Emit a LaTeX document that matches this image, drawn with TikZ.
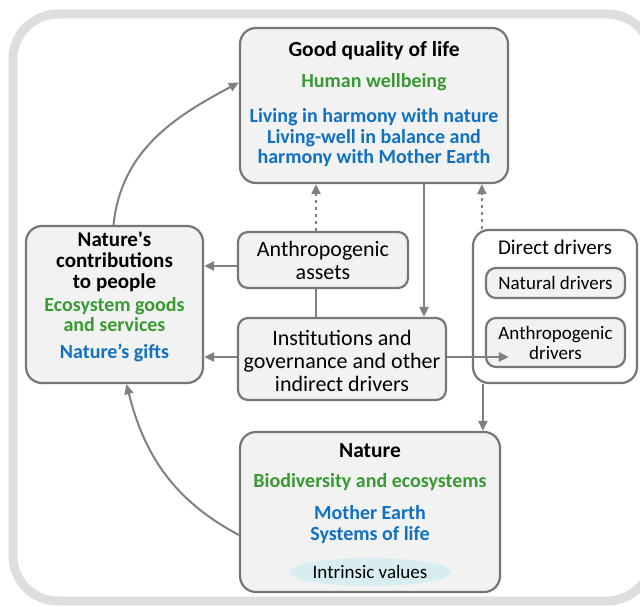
\documentclass[tikz,border=0pt]{standalone}
\usepackage{xcolor}
\usepackage{fontspec}
\setmainfont{Carlito}
\usepackage{tikz}
\usetikzlibrary{shapes,arrows.meta,positioning,calc}
\definecolor{framegray}{RGB}{222,222,222}
\definecolor{boxgray}{RGB}{118,118,118}
\definecolor{boxfill}{RGB}{242,242,242}
\definecolor{linkgray}{RGB}{128,128,128}
\definecolor{ipbesgreen}{RGB}{56,154,50}
\definecolor{ipbesblue}{RGB}{16,112,196}
\definecolor{valuecyan}{RGB}{216,237,241}

\begin{document}
\begin{tikzpicture}[x=1pt, y=-1pt,
    panel/.style={rectangle, draw=boxgray, fill=boxfill, line width=2.2pt, rounded corners=16pt, inner sep=0pt},
    subpanel/.style={panel, rounded corners=10pt, align=center, font=\fontsize{19}{20}\selectfont},
    headtxt/.style={inner sep=0pt, align=center, font=\fontsize{21.5}{22}\selectfont\bfseries},
    greentxt/.style={inner sep=0pt, align=center, text=ipbesgreen, font=\fontsize{20}{20.5}\selectfont\bfseries},
    bluetxt/.style={inner sep=0pt, align=center, text=ipbesblue, font=\fontsize{20}{20.5}\selectfont\bfseries},
    plaintxt/.style={inner sep=0pt, align=center, font=\fontsize{22}{23}\selectfont},
    edge/.style={-{Triangle[length=10pt, width=9pt]}, line width=2pt, linkgray},
    link/.style={line width=2pt, linkgray},
    influence/.style={edge, dash pattern=on 3pt off 4pt}
]
    \useasboundingbox (0,0) rectangle (640,607);

    % outer frame
    \draw[framegray, line width=9pt, rounded corners=45pt] (13,14) rectangle (652,601);

    % Good quality of life
    \node[panel, minimum width=268pt, minimum height=155pt] (life) at (374,105.5) {};
    \node[headtxt] (lifehead) at (374,51) {Good quality of life};
    \node[greentxt] (lifegreen) at (374,82.5) {Human wellbeing};
    \node[bluetxt] (lifeblue) at (374,138) {Living in harmony with nature\\Living-well in balance and\\harmony with Mother Earth};

    % Nature's contributions to people
    \node[panel, minimum width=177pt, minimum height=157pt] (ncp) at (114.5,304.5) {};
    \node[headtxt, font=\fontsize{21}{20.8}\selectfont\bfseries] (ncphead) at (114.5,262) {Nature\textquotesingle s\\contributions\\to people};
    \node[greentxt] (ncpgreen) at (114.5,314.5) {Ecosystem goods\\and services};
    \node[bluetxt] (ncpblue) at (114.5,352.5) {Nature’s gifts};

    % indirect drivers
    \node[panel, rounded corners=10pt, minimum width=170pt, minimum height=56pt] (assets) at (323,260) {};
    \node[plaintxt] (assetstxt) at (323,260) {Anthropogenic\\assets};
    \node[panel, rounded corners=10pt, minimum width=208pt, minimum height=82pt] (inst) at (342,359) {};
    \node[plaintxt] (insttxt) at (342,360.5) {Institutions and\\governance and other\\indirect drivers};

    % Direct drivers
    \node[panel, fill=white, minimum width=164pt, minimum height=153pt] (direct) at (555,306.5) {};
    \node[plaintxt, font=\fontsize{21}{21}\selectfont] (directtxt) at (555,247.5) {Direct drivers};
    \node[subpanel, minimum width=139pt, minimum height=30pt] (natural) at (555.5,283) {Natural drivers};
    \node[subpanel, minimum width=139pt, minimum height=49pt] (anthro) at (555.5,342.5) {Anthropogenic\\drivers};

    % Nature
    \node[panel, minimum width=260pt, minimum height=160pt] (nature) at (370,512) {};
    \node[headtxt] (naturehead) at (370,451) {Nature};
    \node[greentxt] (naturegreen) at (370,482.5) {Biodiversity and ecosystems};
    \node[bluetxt] (natureblue) at (370,524.5) {Mother Earth\\Systems of life};
    \node[ellipse, fill=valuecyan, minimum width=150pt, minimum height=28pt, inner sep=0pt,
          font=\fontsize{19}{20}\selectfont] (values) at (370,572) {Intrinsic values};

    % connectors
    \draw[edge] ([xshift=-1pt]ncp.north) to[out=84, in=208] ([yshift=23pt]life.west);
    \draw[edge] ([yshift=-23pt]nature.west) to[out=152, in=-76] ([xshift=12pt]ncp.south);
    \draw[edge] ([xshift=50pt]life.south) -- ([xshift=50pt]life.south |- inst.north);
    \draw[influence] ([xshift=-7pt]assets.north) -- ([xshift=-7pt]assets.north |- life.south);
    \draw[influence] ([xshift=10pt]direct.north west) -- ([xshift=10pt]direct.north west |- life.south);
    \draw[link] ([xshift=-7pt]assets.south) -- ([xshift=-7pt]assets.south |- inst.north);
    \draw[edge] ([yshift=-6pt]assets.west) -- ([yshift=-6pt]assets.west -| ncp.east);
    \draw[edge] ([yshift=2pt]inst.west) -- ([yshift=2pt]inst.west -| ncp.east);
    \draw[edge] ([yshift=2pt]inst.east) -- ([yshift=2pt,xshift=24pt]inst.east -| anthro.west);
    \draw[edge] ([xshift=11pt]direct.south west) -- ([xshift=11pt]direct.south west |- nature.north);

\end{tikzpicture}
\end{document}
